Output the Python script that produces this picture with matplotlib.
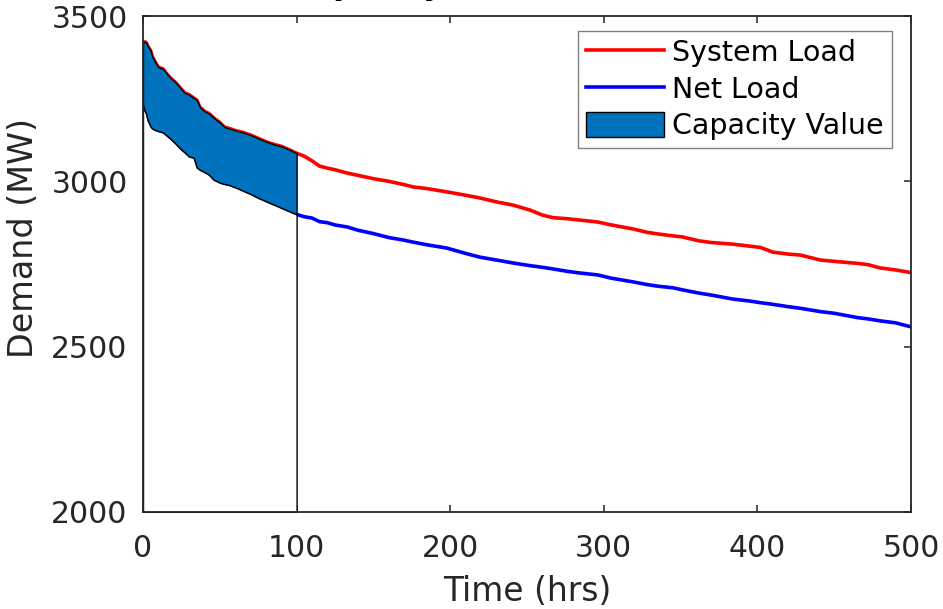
import numpy as np
import matplotlib
matplotlib.use("Agg")
import matplotlib.pyplot as plt
from matplotlib.lines import Line2D
from matplotlib.patches import Patch

# ---- data ----
hours = [0, 1, 2, 3, 5, 6, 8, 10, 13, 15, 18, 21, 24, 27, 30, 33, 35, 37, 40, 43,
         46, 50, 53, 56, 60, 65, 70, 75, 80, 85, 90, 95, 100, 105, 110, 115, 120,
         125, 133, 140, 150, 160, 170, 176, 185, 198, 210, 219, 230, 241, 252, 260,
         267, 276, 284, 296, 305, 319, 328, 335, 345, 351, 362, 370, 384, 395, 402,
         410, 420, 428, 441, 450, 465, 472, 480, 490, 500]
system_load = [3418, 3422, 3420, 3410, 3395, 3378, 3360, 3345, 3340, 3328, 3312, 3300,
               3284, 3268, 3262, 3252, 3246, 3225, 3212, 3205, 3192, 3178, 3164, 3160,
               3154, 3148, 3140, 3130, 3120, 3112, 3106, 3096, 3085, 3076, 3062, 3046,
               3040, 3035, 3025, 3018, 3008, 3000, 2990, 2983, 2978, 2968, 2958, 2950,
               2938, 2928, 2913, 2898, 2890, 2887, 2883, 2877, 2868, 2856, 2846, 2841,
               2835, 2832, 2820, 2815, 2810, 2804, 2800, 2786, 2780, 2777, 2762, 2758,
               2752, 2748, 2738, 2732, 2724]
net_load = [3232, 3215, 3205, 3185, 3165, 3160, 3155, 3152, 3148, 3140, 3128, 3115,
            3100, 3088, 3075, 3072, 3042, 3035, 3028, 3020, 3005, 2996, 2992, 2989,
            2982, 2972, 2962, 2950, 2940, 2930, 2920, 2910, 2900, 2893, 2889, 2878,
            2875, 2868, 2862, 2852, 2842, 2830, 2822, 2816, 2808, 2798, 2782, 2771,
            2762, 2753, 2745, 2740, 2735, 2728, 2723, 2717, 2707, 2696, 2688, 2683,
            2678, 2672, 2662, 2656, 2644, 2638, 2633, 2628, 2621, 2616, 2606, 2601,
            2588, 2584, 2578, 2572, 2560]
capacity_hours = 100
x_ticks = [0, 100, 200, 300, 400, 500]
y_ticks = [2000, 2500, 3000, 3500]
legend_labels = ["System Load", "Net Load", "Capacity Value"]

FONT = "DejaVu Sans"
TXT = "#262626"
plt.rcParams["font.family"] = [FONT]

W, H = 943, 609
fig = plt.figure(figsize=(W / 100, H / 100), dpi=100)
ax = fig.add_axes([143 / W, (H - 512) / H, 768 / W, 496 / H])

h = np.array(hours)
s = np.array(system_load)
n = np.array(net_load)

ax.plot(h, s, color="#FF0000", lw=2.6, zorder=2, solid_joinstyle="round")
ax.plot(h, n, color="#0000FF", lw=2.6, zorder=2, solid_joinstyle="round")

m = h <= capacity_hours
ax.fill_between(h[m], 2000, n[m], facecolor="white", edgecolor="black", lw=1.0, zorder=3)
ax.fill_between(h[m], n[m], s[m], facecolor="#0072BD", edgecolor="black", lw=1.0, zorder=3)

ax.set_xlim(0, 500)
ax.set_ylim(2000, 3500)
ax.set_xticks(x_ticks)
ax.set_yticks(y_ticks)
ax.tick_params(axis="both", which="both", direction="in", length=5, width=1.1,
               colors=TXT, labelsize=21.5, top=True, right=True)
ax.tick_params(axis="x", pad=16)
ax.tick_params(axis="y", pad=11)
for sp in ax.spines.values():
    sp.set_color(TXT)
    sp.set_linewidth(1.3)
    sp.set_zorder(5)

ax.set_xlabel("Time (hrs)", fontsize=23.7, color=TXT)
ax.set_ylabel("Demand (MW)", fontsize=24, color=TXT)
ax.xaxis.set_label_coords(0.5, (512 - 575) / 496)
ax.yaxis.set_label_coords((40 - 143) / 768, (512 - 238) / 496)

handles = [Line2D([], [], color="#FF0000", lw=2.6),
           Line2D([], [], color="#0000FF", lw=2.6),
           Patch(facecolor="#0072BD", edgecolor="black", lw=1.0)]
leg = ax.legend(handles, legend_labels, loc="upper right",
                bbox_to_anchor=((892 - 143) / 768, (512 - 31) / 496),
                borderaxespad=0, fontsize=20.5, fancybox=False, framealpha=1,
                edgecolor="#808080", handlelength=2.75, handleheight=0.95,
                handletextpad=0.3, labelspacing=0.3, borderpad=0.28)
leg.get_frame().set_linewidth(1.0)
for t in leg.get_texts():
    t.set_color("black")

# partially visible title (cut by the top edge)
fig.text(288 / W, 1 + 6 / H, "Capacity Value", fontsize=23, fontweight="bold",
         ha="left", va="baseline", color="black")

fig.savefig("out.png", dpi=100)
